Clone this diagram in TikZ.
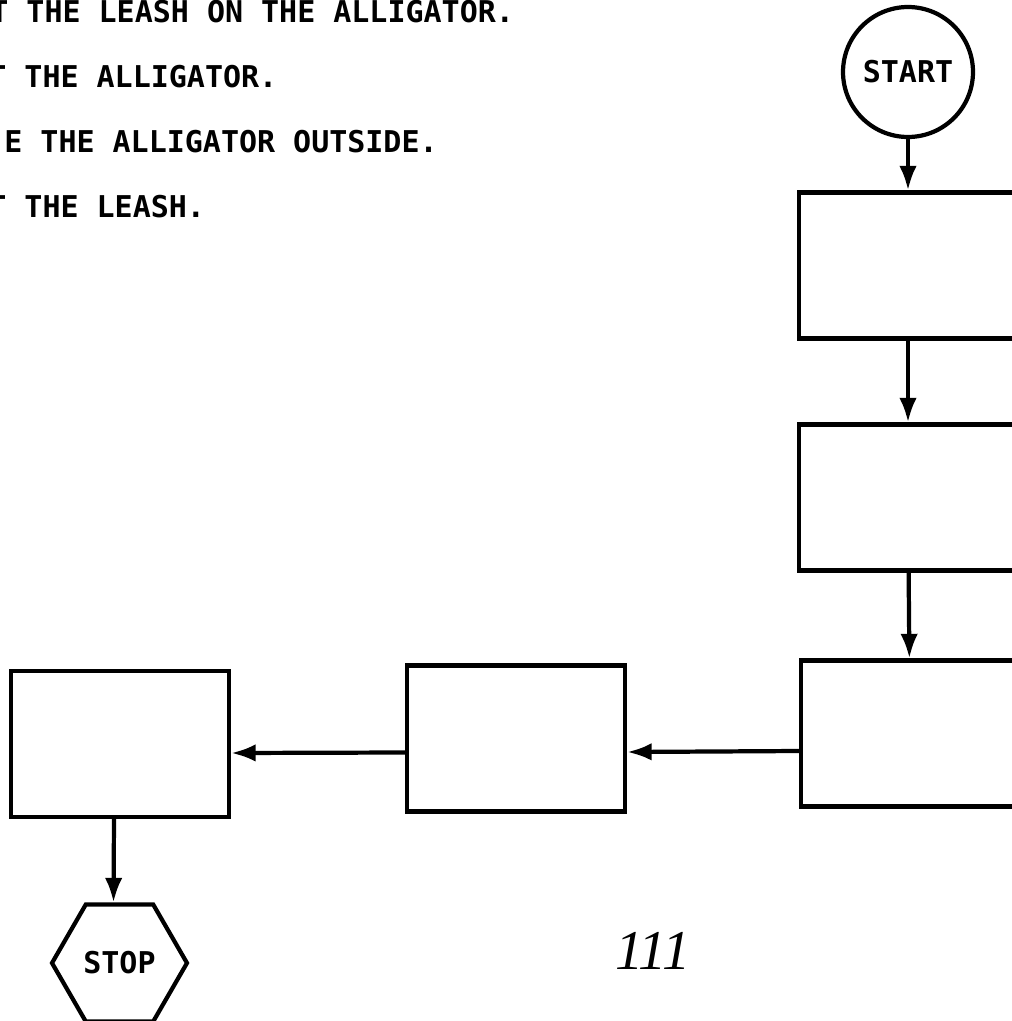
\documentclass[tikz,border=0pt]{standalone}
\usepackage{fontspec}
\usepackage{tikz}
\usetikzlibrary{arrows.meta,shapes.geometric}
\newfontfamily\scanmono{DejaVu Sans Mono}
\newfontfamily\pagefont{Liberation Serif}

\begin{document}
\begin{tikzpicture}[x=0.02cm,y=-0.02cm,
    every node/.style={font=\scanmono\bfseries\fontsize{17.07}{20}\selectfont},
    line/.style={anchor=base west,inner sep=0pt},
    box/.style={draw,line width=2.4pt,minimum width=4.36cm,minimum height=2.92cm,inner sep=0pt},
    arr/.style={-{Latex[length=14pt,width=10pt]},line width=2.4pt}
  ]
    \useasboundingbox (0,0) rectangle (1011,1021);
    \node[line] (linea) at (-10,22) {T THE LEASH ON THE ALLIGATOR.};
    \node[line] (lineb) at (-12,87) {T THE ALLIGATOR.};
    \node[line] (linec) at (4,152) {E THE ALLIGATOR OUTSIDE.};
    \node[line] (lined) at (-12,217) {T THE LEASH.};
    \node[draw,circle,line width=2.4pt,minimum size=2.6cm,inner sep=0pt] (start) at (908,72) {START};
    \node[box] (boxa) at (908,265.5) {};
    \node[box] (boxb) at (908,497.5) {};
    \node[box] (boxc) at (910,733.5) {};
    \node[box] (boxd) at (516,738.5) {};
    \node[box] (boxe) at (120,744) {};
    \node[draw,regular polygon,regular polygon sides=6,line width=2.4pt,minimum size=2.7cm,inner sep=0pt] (stop) at (119.5,963) {STOP};
    \node[anchor=base,font=\pagefont\itshape\fontsize{32}{32}\selectfont] (page) at (653,969) {111};
    \draw[arr] (start) -- (boxa);
    \draw[arr] (boxa) -- (boxb);
    \draw[arr] (boxb) -- (boxc);
    \draw[arr] ([yshift=-0.35cm]boxc.west) -- ([yshift=-0.27cm]boxd.east);
    \draw[arr] ([yshift=-0.28cm]boxd.west) -- ([yshift=-0.18cm]boxe.east);
    \draw[arr] ([xshift=-0.12cm]boxe.south) -- ([xshift=-0.12cm]stop.north);
  \end{tikzpicture}
\end{document}
